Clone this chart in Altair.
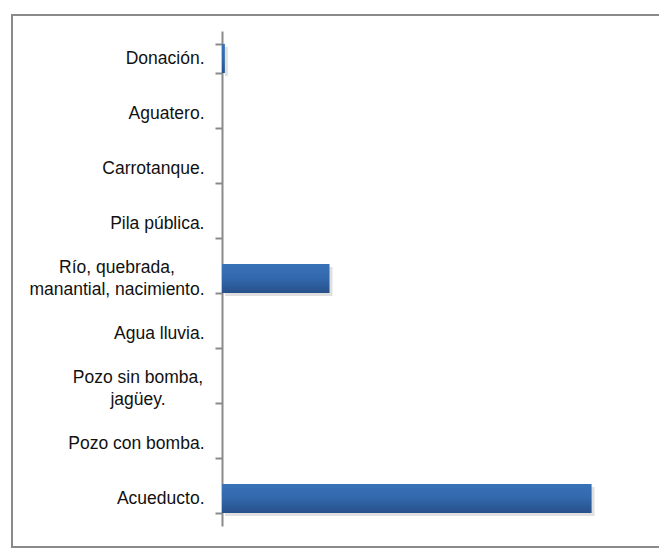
import altair as alt
import pandas as pd

categories = [
    "Donación.",
    "Aguatero.",
    "Carrotanque.",
    "Pila pública.",
    "Río, quebrada,|manantial, nacimiento.",
    "Agua lluvia.",
    "Pozo sin bomba,|jagüey.",
    "Pozo con bomba.",
    "Acueducto.",
]
values = [0.6, 0.0, 0.0, 0.0, 22.4, 0.0, 0.0, 0.0, 77.0]

df = pd.DataFrame({"cat": categories, "val": values})

FONT = "Liberation Sans, Arial, sans-serif"
FONT_SIZE = 17.5
GRAY = "#8a8a8a"
TEXT_COLOR = "#111111"

# horizontal centres (px left of the axis) of the two-line labels
multi_centres = {
    "Río, quebrada,|manantial, nacimiento.": -105,
    "Pozo sin bomba,|jagüey.": -84,
}

y_enc = alt.Y(
    "cat:N",
    sort=categories,
    scale=alt.Scale(paddingInner=0.47, paddingOuter=0.235),
    axis=alt.Axis(
        title=None,
        labelExpr="indexof(datum.label, '|') >= 0 ? '' : datum.label",
        labelFont=FONT,
        labelFontSize=FONT_SIZE,
        labelColor=TEXT_COLOR,
        labelPadding=11,
        labelLimit=400,
        tickBand="extent",
        tickSize=7,
        tickWidth=2,
        tickColor=GRAY,
        domainColor=GRAY,
        domainWidth=2,
        grid=False,
    ),
)
x_enc = alt.X("val:Q", scale=alt.Scale(domain=[0, 90]), axis=None)

base = alt.Chart(df)

shadow = base.mark_bar(color="#000000", opacity=0.12, xOffset=3, yOffset=3).encode(
    x=x_enc, y=y_enc
)

bars = base.mark_bar(
    color=alt.Gradient(
        gradient="linear",
        x1=0, x2=0, y1=0, y2=1,
        stops=[
            alt.GradientStop(offset=0, color="#3a72b8"),
            alt.GradientStop(offset=0.5, color="#3268ac"),
            alt.GradientStop(offset=1, color="#27508a"),
        ],
    )
).encode(x=x_enc, y=y_enc)

label_layers = []
for cat, cx in multi_centres.items():
    label_layers.append(
        base.transform_filter(alt.datum.cat == cat)
        .transform_calculate(lines="split(datum.cat, '|')")
        .mark_text(
            font=FONT,
            fontSize=FONT_SIZE,
            color=TEXT_COLOR,
            align="center",
            baseline="middle",
            lineHeight=22,
            dy=-11,
        )
        .encode(y=y_enc, x=alt.value(cx), text="lines:N")
    )

one = alt.Data(values=[{"a": 1}])
frame_top = alt.Chart(one).mark_rule(color=GRAY, strokeWidth=2).encode(
    x=alt.value(-211), x2=alt.value(800), y=alt.value(-16)
)
frame_bottom = alt.Chart(one).mark_rule(color=GRAY, strokeWidth=2).encode(
    x=alt.value(-211), x2=alt.value(800), y=alt.value(516)
)
frame_left = alt.Chart(one).mark_rule(color=GRAY, strokeWidth=2).encode(
    x=alt.value(-210), y=alt.value(-16), y2=alt.value(516)
)

chart = (
    alt.layer(shadow, bars, *label_layers, frame_top, frame_bottom, frame_left)
    .properties(
        width=432,
        height=495,
        autosize=alt.AutoSizeParams(type="none"),
        padding={"left": 214, "top": 23, "right": 5, "bottom": 22},
    )
    .configure_view(stroke=None)
)

chart.save("out.html", embed_options={"renderer": "svg", "actions": False})
